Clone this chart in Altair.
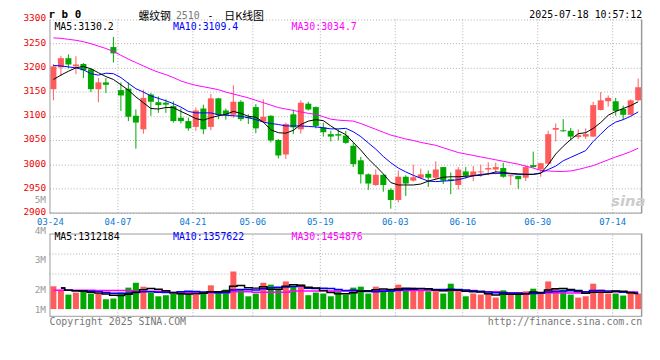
import altair as alt
import pandas as pd

# ---------------- data ----------------
dates = ["03-24","03-25","03-26","03-27","03-28","03-31",
         "04-01","04-02","04-03","04-07","04-08","04-09","04-10","04-11",
         "04-14","04-15","04-16","04-17","04-18",
         "04-21","04-22","04-23","04-24","04-25",
         "04-28","04-29","04-30",
         "05-06","05-07","05-08","05-09",
         "05-12","05-13","05-14","05-15","05-16",
         "05-19","05-20","05-21","05-22","05-23",
         "05-26","05-27","05-28","05-29","05-30",
         "06-03","06-04","06-05","06-06",
         "06-09","06-10","06-11","06-12","06-13",
         "06-16","06-17","06-18","06-19","06-20",
         "06-23","06-24","06-25","06-26","06-27",
         "06-30",
         "07-01","07-02","07-03","07-04",
         "07-07","07-08","07-09","07-10","07-11",
         "07-14","07-15","07-16","07-17"]

opens = [3156,3201,3220,3203,3208,3197,3156,3170,3243,3154,
         3157,3101,3073,3145,3129,3128,3121,3097,3090,3078,
         3116,3078,3137,3112,3103,3130,3099,3119,3089,3101,
         3051,3021,3104,3073,3126,3119,3077,3063,3063,3060,
         3039,3009,2980,2958,2979,2948,2927,2975,2967,2973,
         2981,2973,2995,2970,2958,2986,2977,2984,2990,2990,
         2993,2976,2977,2973,2999,2990,3002,3072,3071,3070,
         3057,3058,3058,3113,3131,3131,3115,3103,3133]
closes = [3203,3220,3207,3207,3195,3156,3170,3165,3230,3143,
          3099,3087,3138,3130,3123,3124,3090,3090,3075,3112,
          3073,3137,3103,3103,3130,3094,3096,3075,3099,3050,
          3019,3084,3077,3128,3114,3080,3067,3058,3060,3045,
          3001,2980,2961,2979,2958,2927,2975,2961,2974,2980,
          2973,2990,2967,2967,2990,2977,2986,2986,2993,2995,
          2975,2978,2970,2995,2995,3003,3063,3076,3069,3058,
          3061,3063,3123,3133,3138,3111,3103,3133,3160]
highs = [3208,3225,3228,3224,3210,3200,3179,3179,3264,3170,
         3170,3114,3155,3148,3141,3135,3131,3116,3097,3118,
         3124,3146,3138,3116,3164,3133,3104,3125,3135,3102,
         3053,3087,3114,3133,3130,3120,3087,3070,3073,3070,
         3046,3016,2982,2990,2980,2951,2988,2978,3000,2992,
         2988,3007,2995,2984,2995,2995,2997,3000,3005,3004,
         3004,2979,2977,2999,3027,3004,3070,3085,3094,3076,
         3073,3075,3130,3150,3143,3138,3122,3135,3178]
lows = [3133,3183,3199,3187,3179,3150,3129,3148,3211,3111,
        3090,3033,3064,3101,3107,3107,3087,3085,3070,3070,
        3063,3071,3094,3093,3097,3090,3084,3065,3087,3046,
        3013,3012,3063,3064,3112,3075,3058,3048,3050,3043,
        2995,2961,2948,2956,2944,2909,2922,2935,2965,2971,
        2954,2969,2960,2939,2949,2971,2966,2975,2978,2980,
        2973,2958,2950,2966,2994,2975,3000,3048,3068,3050,
        3053,3053,3057,3112,3120,3101,3092,3102,3132]

ma5 = [3176,3185,3193,3200,3203,3198,3190,3182,3176,3165,
       3154,3140,3128,3116,3115,3118,3118,3110,3103,3095,
       3092,3097,3101,3104,3110,3106,3100,3098,3088,3072,
       3066,3065,3071,3083,3090,3093,3091,3080,3070,3062,
       3046,3030,3012,2997,2981,2963,2958,2958,2958,2960,
       2966,2970,2974,2975,2975,2976,2977,2978,2981,2985,
       2984,2982,2981,2980,2980,2982,3000,3022,3038,3052,
       3064,3066,3075,3087,3102,3110,3116,3122,3130]
ma10 = [3205,3204,3202,3200,3196,3188,3185,3189,3188,3180,
        3168,3157,3150,3142,3137,3132,3126,3119,3110,3107,
        3107,3107,3103,3102,3101,3100,3097,3093,3088,3085,
        3083,3080,3080,3080,3079,3078,3076,3074,3074,3075,
        3068,3058,3045,3032,3017,3004,2993,2985,2978,2972,
        2966,2965,2966,2967,2969,2973,2977,2980,2981,2982,
        2982,2981,2980,2980,2980,2983,2990,2997,3008,3015,
        3022,3029,3048,3063,3078,3088,3093,3100,3109]
ma30 = [3262,3261,3259,3257,3254,3250,3245,3240,3234,3226,
        3218,3211,3204,3197,3191,3186,3180,3173,3168,3164,
        3161,3158,3155,3150,3146,3142,3138,3133,3128,3123,
        3118,3115,3112,3109,3106,3104,3099,3094,3092,3091,
        3090,3085,3079,3073,3067,3061,3057,3053,3050,3046,
        3043,3040,3035,3030,3025,3022,3019,3016,3013,3010,
        3007,3004,3001,2997,2993,2988,2987,2986,2986,2987,
        2990,2994,2998,3004,3010,3016,3021,3027,3034]

volumes = [1920000,1640000,1220000,1390000,1500000,1310000,1310000,830000,890000,1390000,
           1810000,2220000,1890000,1390000,1080000,1170000,1310000,1500000,1310000,1220000,
           1310000,2000000,1500000,1640000,3170000,1640000,1080000,1310000,2220000,2060000,
           1720000,2330000,1920000,2060000,1170000,1390000,1310000,1080000,1500000,1220000,
           1810000,1890000,1310000,1890000,1580000,1580000,2060000,1640000,1810000,1580000,
           1500000,1500000,1310000,2140000,1500000,1080000,1310000,1220000,1310000,970000,
           1580000,1220000,1220000,1500000,1720000,1310000,2330000,1720000,1640000,1220000,
           970000,1080000,2140000,1640000,1310000,1310000,1140000,1500000,1310000]
vol_ma30 = ([1580000]*6 + [1560000]*5 + [1500000]*5 + [1400000]*5 + [1380000]*3 +
            [1470000]*3 + [1420000]*5 + [1530000]*11 + [1560000]*14 + [1460000]*3 +
            [1360000]*11 + [1450000]*8)

label_dates = ["03-24","04-07","04-21","05-06","05-19","06-03","06-16","06-30","07-14"]
price_ticks = [2900, 2950, 3000, 3050, 3100, 3150, 3200, 3250, 3300]

# ---------------- styling ----------------
RED = "#ff5b5b"
GREEN = "#00a800"
GRID = "#b0b0b0"
FRAME = "#9a9a9a"
BLUE_TXT = "#0a78d2"
FONT = "DejaVu Sans Mono"
CJK = "Noto Sans CJK SC"

W, H = 600, 300.5
P_DOM = [2686.7, 3300]
V_MIN, V_MAX = -608333, 24433333
V_TOP = 6333000

df = pd.DataFrame({"idx": range(len(dates)), "date": dates, "open": opens, "close": closes,
                   "high": highs, "low": lows, "ma5": ma5, "ma10": ma10, "ma30": ma30,
                   "vol": volumes, "vma30": vol_ma30})
df["dir"] = ["up" if c >= o else "down" for o, c in zip(opens, closes)]

XS = alt.Scale(domain=dates, paddingInner=0.2, paddingOuter=0.125)
PS = alt.Scale(domain=P_DOM, nice=False, zero=False)
VS = alt.Scale(domain=[V_MIN, V_MAX], nice=False, zero=False)


def X(start=False):
    if start:
        return alt.X("date:N", scale=XS, axis=None, bandPosition=0)
    return alt.X("date:N", scale=XS, axis=None)


def PY(f, axis=None):
    return alt.Y(f, type="quantitative", scale=PS, axis=axis)


def VY(f, axis=None):
    return alt.Y(f, type="quantitative", scale=VS, axis=axis)


color_enc = alt.Color("dir:N", scale=alt.Scale(domain=["up", "down"], range=[RED, GREEN]), legend=None)

price_axis = alt.Axis(values=price_ticks, format="d", grid=True, gridDash=[1, 2], gridColor=GRID,
                      domain=False, ticks=False, labelColor="#ee0000", labelFont=FONT, labelFontSize=9.5,
                      labelPadding=4, labelOffset=-1.5, title=None, orient="left", labelOverlap=False)
vol_axis = alt.Axis(values=[0, 1667000, 4167000, 6600000, 9225000], grid=False, domain=False, ticks=False,
                    labelColor="#999999", labelFont=FONT, labelFontSize=9.5, labelPadding=4, title=None,
                    orient="left", labelOverlap=False,
                    labelExpr="datum.value == 0 ? '1M' : datum.value < 2000000 ? '2M' : datum.value < 5000000 ? '3M' : datum.value < 8000000 ? '4M' : '5M'")

grid_df = pd.DataFrame({"date": label_dates[1:]})
grid_df["p0"] = 2900
grid_df["p1"] = 3300
grid_df["v0"] = V_MIN
grid_df["v1"] = V_TOP
lbl_df = pd.DataFrame({"date": label_dates})
lbl_df["p"] = 2900
frame_df = pd.DataFrame({"p0": [2900], "p1": [3300], "v0": [V_MIN], "v1": [V_TOP]})
vgrid_df = pd.DataFrame({"v": [2950000, 4642000]})

layers = []

# vertical grid lines
layers.append(alt.Chart(grid_df).mark_rule(color=GRID, strokeDash=[1, 2]).encode(
    x=X(True), y=PY("p0"), y2="p1"))
layers.append(alt.Chart(grid_df).mark_rule(color=GRID, strokeDash=[1, 2]).encode(
    x=X(True), y=VY("v0"), y2="v1"))
layers.append(alt.Chart(vgrid_df).mark_rule(color=GRID, strokeDash=[1, 2]).encode(
    x=alt.value(0), x2=alt.value(W), y=VY("v")))

# candles
layers.append(alt.Chart(df).mark_rule(strokeWidth=1).encode(
    x=X(), y=PY("low", price_axis), y2="high", color=color_enc))
layers.append(alt.Chart(df).mark_bar().encode(
    x=X(), y=PY("open"), y2="close", color=color_enc))

# price moving averages
for col, c in [("ma30", "#ff00ff"), ("ma10", "#0000ff"), ("ma5", "#000000")]:
    layers.append(alt.Chart(df).mark_line(color=c, strokeWidth=1).encode(x=X(), y=PY(col)))

# volume bars
layers.append(alt.Chart(df).mark_bar().encode(x=X(), y=VY("vol", vol_axis), color=color_enc))

# volume moving averages
vbase = alt.Chart(df).transform_window(
    vma5="mean(vol)", frame=[-4, 0], sort=[alt.SortField("idx")]
).transform_window(
    vma10="mean(vol)", frame=[-9, 0], sort=[alt.SortField("idx")]
)
layers.append(alt.Chart(df).mark_line(color="#ff00ff", strokeWidth=1.5, interpolate="step").encode(
    x=X(), y=VY("vma30")))
layers.append(vbase.transform_filter("datum.idx >= 1").mark_line(
    color="#0000ff", strokeWidth=1.5, interpolate="step").encode(x=X(), y=VY("vma10")))
layers.append(vbase.transform_filter("datum.idx >= 1").mark_line(
    color="#000000", strokeWidth=1.5, interpolate="step").encode(x=X(), y=VY("vma5")))

# frames
fr = alt.Chart(frame_df)
layers.append(fr.mark_rule(color=FRAME).encode(x=alt.value(0.5), y=PY("p0"), y2="p1"))
layers.append(fr.mark_rule(color=FRAME, strokeWidth=1.5).encode(x=alt.value(W - 0.5), y=PY("p0"), y2="p1"))
layers.append(fr.mark_rule(color=FRAME).encode(x=alt.value(0), x2=alt.value(W), y=PY("p0")))
layers.append(fr.mark_rule(color=FRAME).encode(x=alt.value(0.5), y=VY("v0"), y2="v1"))
layers.append(fr.mark_rule(color=FRAME, strokeWidth=1.5).encode(x=alt.value(W - 0.5), y=VY("v0"), y2="v1"))
layers.append(fr.mark_rule(color=FRAME).encode(x=alt.value(0), x2=alt.value(W), y=VY("v1")))
layers.append(fr.mark_rule(color=FRAME).encode(x=alt.value(0), x2=alt.value(W), y=VY("v0")))

# date labels
layers.append(alt.Chart(lbl_df).mark_text(font=FONT, fontSize=9, color=BLUE_TXT, baseline="middle", dy=8.7).encode(
    x=X(True), y=PY("p"), text="date:N"))


def label(text, x, y, color="#000000", size=10, align="left", font=FONT, weight="normal", style="normal"):
    return alt.Chart(alt.Data(values=[{}])).mark_text(
        text=text, align=align, baseline="middle", font=font, fontSize=size, color=color,
        fontWeight=weight, fontStyle=style).encode(x=alt.value(x), y=alt.value(y))


layers += [
    label("r b 0", -1, -4, size=11, weight="bold"),
    label("螺纹钢", 90, -2, size=11, font=CJK),
    label("2510", 128, -3, color="#777777", size=10),
    label("-", 160, -3, size=10),
    label("日K线图", 177, -2, size=11, font=CJK),
    label("2025-07-18 10:57:12", W, -4, size=10, align="right"),
    label("MA5:3130.2", 5, 7.7),
    label("MA10:3109.4", 125, 7.7, color="#0000ff"),
    label("MA30:3034.7", 245, 7.7, color="#ff00ff"),
    label("MA5:1312184", 5, 220.5),
    label("MA10:1357622", 125, 220.5, color="#0000ff"),
    label("MA30:1454876", 245, 220.5, color="#ff00ff"),
    label("Copyright 2025 SINA.COM", 0, 306.5, color="#777777"),
    label("http://finance.sina.com.cn", W, 306.5, color="#777777", align="right"),
    label("sina", 586, 183.5, color="#cccccc", size=15, weight="bold", style="italic",
          font="DejaVu Sans", align="center"),
]

chart = alt.layer(*layers).resolve_scale(y="independent").properties(
    width=W, height=H,
    padding={"left": 42, "top": 9.5, "right": 10, "bottom": 30},
    autosize=alt.AutoSizeParams(type="none"),
    background="white",
).configure_view(strokeWidth=0)

chart.save("out.html", embed_options={"renderer": "svg", "actions": False})
